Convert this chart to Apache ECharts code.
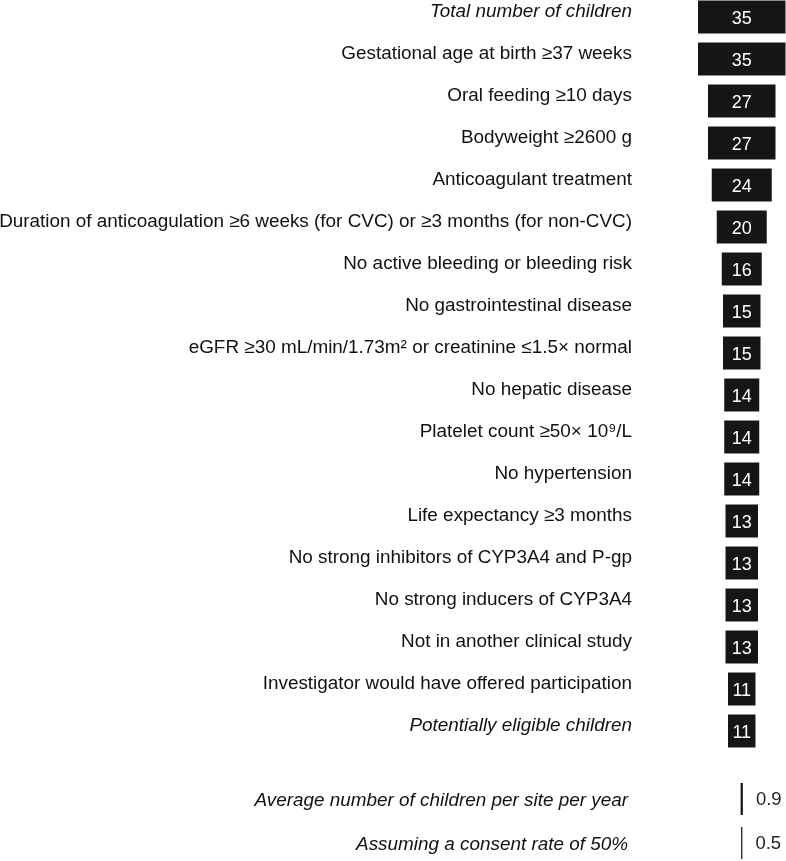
<!DOCTYPE html>
<html>
<head>
<meta charset="utf-8">
<style>
html,body{margin:0;padding:0;background:#fff;}
#chart{width:786px;height:861px;}
</style>
<script src="https://cdn.jsdelivr.net/npm/echarts@6/dist/echarts.min.js"></script>
</head>
<body>
<div id="chart"></div>
<script>
// ---- Data ----
const criteria = [
  "Total number of children",
  "Gestational age at birth ≥37 weeks",
  "Oral feeding ≥10 days",
  "Bodyweight ≥2600 g",
  "Anticoagulant treatment",
  "Duration of anticoagulation ≥6 weeks (for CVC) or ≥3 months (for non-CVC)",
  "No active bleeding or bleeding risk",
  "No gastrointestinal disease",
  "eGFR ≥30 mL/min/1.73m² or creatinine ≤1.5× normal",
  "No hepatic disease",
  "Platelet count ≥50× 10⁹/L",
  "No hypertension",
  "Life expectancy ≥3 months",
  "No strong inhibitors of CYP3A4 and P-gp",
  "No strong inducers of CYP3A4",
  "Not in another clinical study",
  "Investigator would have offered participation",
  "Potentially eligible children"
];
const counts = [35, 35, 27, 27, 24, 20, 16, 15, 15, 14, 14, 14, 13, 13, 13, 13, 11, 11];
const italicCriteria = ["Total number of children", "Potentially eligible children"];

const rateLabels = [
  "Average number of children per site per year",
  "Assuming a consent rate of 50%"
];
const rates = [0.9, 0.5];

// ---- Build ----
const maxVal = Math.max(...counts);
const offsets = counts.map(v => (maxVal - v) / 2);
const rateOffsets = rates.map(v => (maxVal - v) / 2);

const labelFont = "'Liberation Sans', Arial, sans-serif";
const baseTxt = {color: '#111', fontSize: 18.9, fontFamily: labelFont};

const chart = echarts.init(document.getElementById('chart'), null, {renderer: 'canvas'});
chart.setOption({
  animation: false,
  backgroundColor: '#ffffff',
  textStyle: {fontFamily: labelFont},
  grid: [
    {left: 698, width: 87.5, top: -4, height: 756, containLabel: false, outerBoundsMode: 'none'},
    {left: 698, width: 87.5, top: 777, height: 88, containLabel: false, outerBoundsMode: 'none'}
  ],
  xAxis: [
    {gridIndex: 0, type: 'value', min: 0, max: maxVal, show: false},
    {gridIndex: 1, type: 'value', min: 0, max: maxVal, show: false}
  ],
  yAxis: [
    {
      gridIndex: 0, type: 'category', inverse: true, data: criteria,
      axisLine: {show: false}, axisTick: {show: false},
      axisLabel: {
        margin: 66, ...baseTxt,
        formatter: v => (italicCriteria.includes(v) ? '{i|' : '{n|') + v + '}',
        rich: {
          n: {...baseTxt, fontStyle: 'normal', padding: [0, 0, 10, 0]},
          i: {...baseTxt, fontStyle: 'italic', padding: [0, 0, 10, 0]}
        }
      }
    },
    {
      gridIndex: 1, type: 'category', inverse: true, data: rateLabels,
      axisLine: {show: false}, axisTick: {show: false},
      axisLabel: {
        margin: 70, ...baseTxt,
        formatter: v => '{i|' + v + '}',
        rich: {
          i: {...baseTxt, fontStyle: 'italic', padding: [4, 0, 0, 0]}
        }
      }
    }
  ],
  series: [
    {
      type: 'bar', xAxisIndex: 0, yAxisIndex: 0, stack: 'top',
      data: offsets, barWidth: 33,
      itemStyle: {color: 'rgba(0,0,0,0)'}, silent: true
    },
    {
      type: 'bar', xAxisIndex: 0, yAxisIndex: 0, stack: 'top',
      data: counts, barWidth: 33,
      itemStyle: {color: '#161616'},
      label: {
        show: true, position: 'inside', color: '#ffffff',
        fontSize: 18, fontFamily: labelFont, offset: [0, 2]
      }
    },
    {
      type: 'bar', xAxisIndex: 1, yAxisIndex: 1, stack: 'bottom',
      data: rateOffsets, barWidth: 32,
      itemStyle: {color: 'rgba(0,0,0,0)'}, silent: true
    },
    {
      type: 'bar', xAxisIndex: 1, yAxisIndex: 1, stack: 'bottom',
      data: rates, barWidth: 32,
      itemStyle: {color: '#161616'},
      label: {
        show: true, position: 'right', distance: 13, color: '#222',
        fontSize: 18.5, fontFamily: labelFont, offset: [0, 1]
      }
    }
  ]
});
</script>
</body>
</html>
